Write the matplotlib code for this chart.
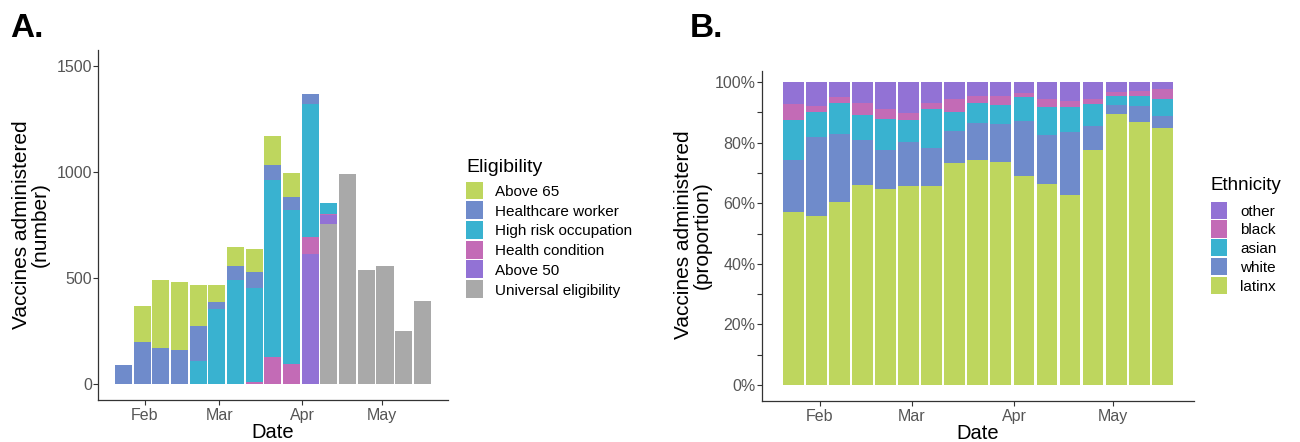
import numpy as np
import matplotlib
matplotlib.use("Agg")
import matplotlib.pyplot as plt
import matplotlib.dates as mdates
from matplotlib.patches import Rectangle
from matplotlib.ticker import FuncFormatter, MultipleLocator

plt.rcParams['font.family'] = ['Liberation Sans', 'DejaVu Sans']

# ---- data ----
weeks = np.arange(np.datetime64('2021-01-24'), np.datetime64('2021-05-17'), np.timedelta64(7, 'D'))

elig_names = ["Above 65", "Healthcare worker", "High risk occupation", "Health condition", "Above 50", "Universal eligibility"]
above65 = [3, 169, 320, 319, 194, 82, 90, 107, 138, 111, 0, 0, 0, 0, 0, 0, 0]
healthcare = [88, 200, 169, 162, 167, 34, 68, 76, 71, 60, 47, 0, 0, 0, 0, 0, 0]
high_risk = [0, 0, 0, 0, 107, 352, 489, 442, 834, 728, 628, 52, 0, 0, 0, 0, 0]
health_cond = [0, 0, 0, 0, 0, 0, 0, 12, 126, 95, 82, 4, 0, 0, 0, 0, 0]
above50 = [0, 0, 0, 0, 0, 0, 0, 0, 0, 0, 612, 40, 0, 0, 0, 0, 0]
universal = [0, 0, 0, 0, 0, 0, 0, 0, 0, 0, 0, 757, 990, 536, 557, 248, 394]

eth_names = ["other", "black", "asian", "white", "latinx"]
latinx = [57.2, 55.9, 60.5, 66.2, 64.6, 65.6, 65.8, 73.2, 74.3, 73.8, 68.9, 66.4, 62.7, 77.7, 89.4, 87.0, 84.8]
white = [17.0, 26.0, 22.3, 14.7, 13.0, 14.6, 12.4, 10.7, 12.3, 12.3, 18.3, 16.2, 20.7, 7.8, 3.0, 5.1, 4.2]
asian = [13.2, 8.1, 10.2, 8.4, 10.4, 7.2, 12.9, 6.3, 6.6, 6.3, 8.0, 9.3, 8.5, 7.2, 3.2, 3.3, 5.5]
black = [5.3, 2.3, 2.2, 3.9, 3.2, 2.3, 1.9, 4.1, 2.2, 3.0, 1.2, 2.7, 1.9, 1.9, 1.1, 1.6, 3.4]
other = [7.3, 7.7, 4.8, 6.8, 8.8, 10.3, 7.0, 5.7, 4.6, 4.6, 3.6, 5.4, 6.2, 5.4, 3.3, 3.0, 2.1]

# ---- style ----
C_A65 = "#BED65E"
C_HW = "#6F8BCB"
C_HRO = "#39B2D0"
C_HC = "#C36BB6"
C_A50 = "#9272D5"
C_UE = "#A9A9A9"
TICK_C = "#555555"

fig = plt.figure(figsize=(13, 4.42), dpi=100)
W, H = 1300.0, 442.0

def axes_px(l, r, t, b):
    return fig.add_axes([l / W, 1 - b / H, (r - l) / W, (b - t) / H])

axA = axes_px(98, 447.7, 50, 400)
axB = axes_px(762, 1193.6, 70.7, 400.7)

xd = mdates.date2num(weeks.astype('datetime64[D]').astype(object))

# Panel A stacking (bottom to top)
stackA = [(universal, C_UE), (above50, C_A50), (health_cond, C_HC),
          (high_risk, C_HRO), (healthcare, C_HW), (above65, C_A65)]
bottom = np.zeros(len(xd))
for vals, col in stackA:
    v = np.array(vals, dtype=float)
    axA.bar(xd, v, width=6.4, bottom=bottom, color=col, linewidth=0)
    bottom += v

# Panel B stacking (bottom to top)
stackB = [(latinx, C_A65), (white, C_HW), (asian, C_HRO), (black, C_HC), (other, C_A50)]
bottom = np.zeros(len(xd))
for vals, col in stackB:
    v = np.array(vals, dtype=float) / 100.0
    axB.bar(xd, v, width=6.3, bottom=bottom, color=col, linewidth=0)
    bottom += v

xlo = mdates.date2num(np.datetime64('2021-01-14T12').astype('datetime64[s]').astype(object))
xhi = mdates.date2num(np.datetime64('2021-05-25T12').astype('datetime64[s]').astype(object))

for ax in (axA, axB):
    ax.set_xlim(xlo, xhi)
    ax.spines['top'].set_visible(False)
    ax.spines['right'].set_visible(False)
    for s in ('left', 'bottom'):
        ax.spines[s].set_color('#333333')
        ax.spines[s].set_linewidth(0.9)
    ax.xaxis.set_major_locator(mdates.MonthLocator())
    ax.xaxis.set_major_formatter(mdates.DateFormatter('%b'))
    ax.tick_params(axis='both', which='both', colors='#333333', labelcolor=TICK_C,
                   labelsize=11.5, length=3.5, width=0.8, pad=2.5)
    ax.tick_params(axis='y', pad=1.0)
    ax.set_xlabel("Date", fontsize=14.5, color='black', labelpad=0)

axA.set_ylim(-75, 1575)
axA.set_yticks([0, 500, 1000, 1500])

axB.set_ylim(-0.052, 1.038)
axB.set_yticks([0, 0.2, 0.4, 0.6, 0.8, 1.0])
axB.yaxis.set_minor_locator(MultipleLocator(0.1))
axB.yaxis.set_major_formatter(FuncFormatter(lambda v, p: f"{v*100:.0f}%"))
axB.tick_params(axis='x', which='minor', length=0)

fig.text(31 / W, 1 - 225 / H, "Vaccines administered\n(number)", rotation=90,
         ha='center', va='center', fontsize=15, linespacing=1.0)
fig.text(693 / W, 1 - 235 / H, "Vaccines administered\n(proportion)", rotation=90,
         ha='center', va='center', fontsize=15, linespacing=1.0)

fig.text(10 / W, 1 - 37 / H, "A.", fontsize=24, fontweight='bold', va='baseline')
fig.text(690 / W, 1 - 37 / H, "B.", fontsize=24, fontweight='bold', va='baseline')

# Legends drawn manually (pixel layout)
def draw_legend(title, names, colors, x_key, title_base, y_first, step, kw, kh, x_text, tsize, lsize):
    fig.text(x_key / W, 1 - title_base / H, title, fontsize=tsize, ha='left', va='baseline')
    for i, (nm, c) in enumerate(zip(names, colors)):
        top = y_first + i * step
        fig.patches.append(Rectangle((x_key / W, 1 - (top + kh) / H), kw / W, kh / H,
                                     transform=fig.transFigure, facecolor=c, edgecolor='none'))
        fig.text(x_text / W, 1 - (top + kh / 2) / H, nm, fontsize=lsize, ha='left', va='center_baseline')

draw_legend("Eligibility", elig_names, [C_A65, C_HW, C_HRO, C_HC, C_A50, C_UE],
            466, 172, 181.5, 19.7, 17, 18, 495, 14, 11)
draw_legend("Ethnicity", eth_names, [C_A50, C_HC, C_HRO, C_HW, C_A65],
            1210.7, 190, 201.5, 18.75, 16.5, 17.3, 1240, 13.5, 11)

fig.savefig("out.png", dpi=100)
